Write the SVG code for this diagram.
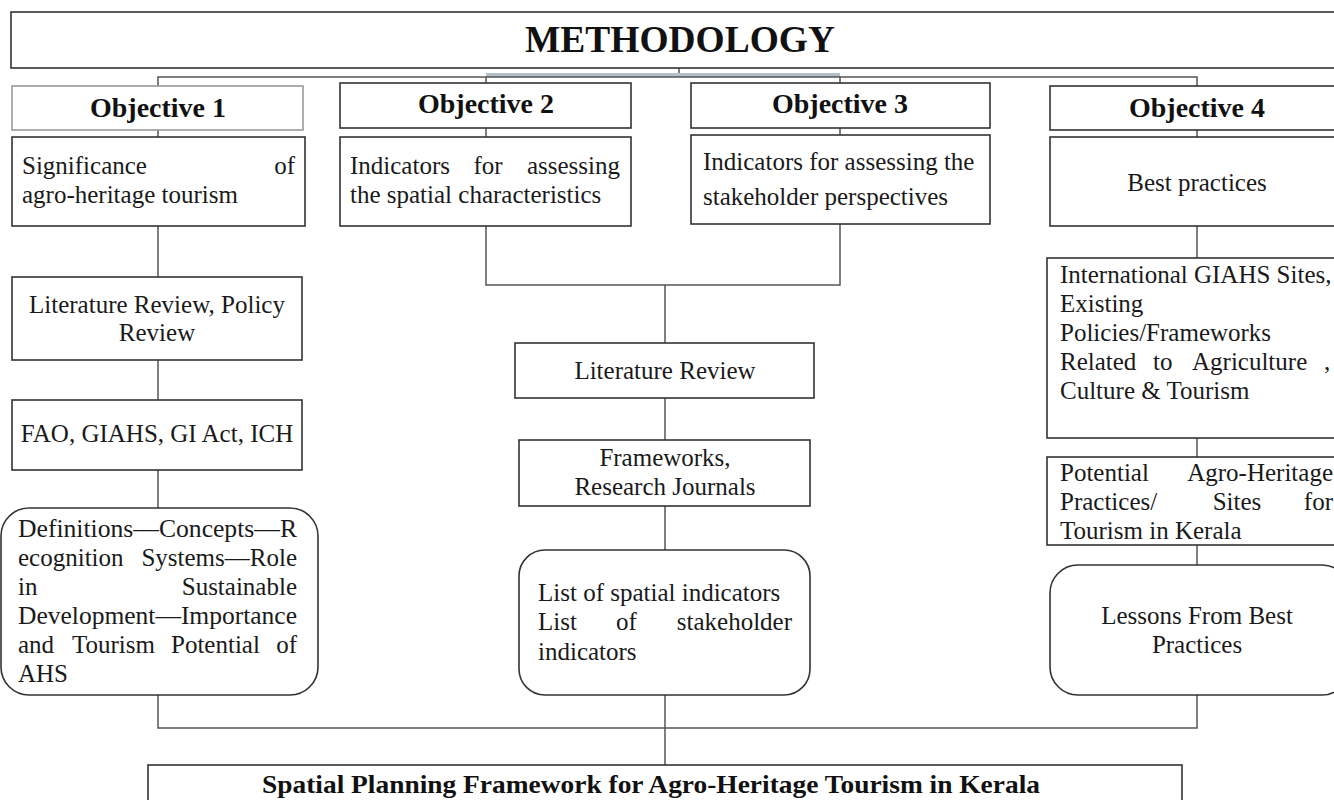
<svg xmlns="http://www.w3.org/2000/svg" width="1334" height="800" viewBox="0 0 1334 800">
  <style>
    .box { fill: #ffffff; stroke: #333333; stroke-width: 1.6; }
    .light { fill: #ffffff; stroke: #9a9a9a; stroke-width: 1.6; }
    .wire { fill: none; stroke: #555555; stroke-width: 1.5; }
    .t { font-family: "Liberation Serif", "Times New Roman", serif; font-size: 25px; fill: #1a1a1a; }
    .c { text-anchor: middle; }
    .e { text-anchor: end; }
    .b { font-family: "Liberation Serif", "Times New Roman", serif; font-weight: bold; fill: #111111; text-anchor: middle; }
  </style>
  <rect width="1334" height="800" fill="#ffffff"/>

  <!-- connectors -->
  <g id="connectors">
    <path class="wire" d="M679 68 V76"/>
    <path d="M486 75 H840" stroke="#b3bfc9" stroke-width="4" fill="none"/>
    <path class="wire" d="M158 86 V77 H1197 V86"/>
    <path class="wire" d="M486 77 V83 M840 77 V83"/>
    <path class="wire" d="M158 130 V137 M486 128 V137 M840 128 V135 M1197 130 V137"/>
    <!-- objective 1 column -->
    <path class="wire" d="M158 226 V277 M158 360 V400 M158 470 V508"/>
    <!-- objectives 2 and 3 merge -->
    <path class="wire" d="M486 226 V285 H840 V224 M665 285 V343 M665 398 V440 M665 506 V550"/>
    <!-- objective 4 column -->
    <path class="wire" d="M1197 226 V258 M1197 438 V457 M1197 545 V565"/>
    <!-- final merge -->
    <path class="wire" d="M158 695 V728 H1197 V695 M665 695 V765"/>
  </g>

  <g id="methodology">
    <rect class="box" x="11" y="12" width="1340" height="56"/>
    <text class="b" x="680" y="52" font-size="37" textLength="310" lengthAdjust="spacingAndGlyphs">METHODOLOGY</text>
  </g>

  <g id="objective1">
    <rect class="light" x="12" y="86" width="291" height="44"/>
    <text class="b" x="158" y="117" font-size="27" textLength="136" lengthAdjust="spacingAndGlyphs">Objective 1</text>
  </g>
  <g id="objective2">
    <rect class="box" x="340" y="83" width="291" height="45"/>
    <text class="b" x="486" y="113" font-size="27" textLength="136" lengthAdjust="spacingAndGlyphs">Objective 2</text>
  </g>
  <g id="objective3">
    <rect class="box" x="691" y="83" width="299" height="45"/>
    <text class="b" x="840" y="113" font-size="27" textLength="136" lengthAdjust="spacingAndGlyphs">Objective 3</text>
  </g>
  <g id="objective4">
    <rect class="box" x="1050" y="86" width="300" height="44"/>
    <text class="b" x="1197" y="117" font-size="27" textLength="136" lengthAdjust="spacingAndGlyphs">Objective 4</text>
  </g>

  <g id="significance">
    <rect class="box" x="12" y="137" width="293" height="89"/>
    <text class="t" x="22" y="174">Significance</text>
    <text class="t e" x="295" y="174">of</text>
    <text class="t" x="22" y="203">agro-heritage tourism</text>
  </g>
  <g id="spatial-indicators">
    <rect class="box" x="340" y="137" width="291" height="89"/>
    <text class="t" x="350" y="174">Indicators</text>
    <text class="t c" x="488" y="174">for</text>
    <text class="t e" x="620" y="174">assessing</text>
    <text class="t" x="350" y="203">the spatial characteristics</text>
  </g>
  <g id="stakeholder-indicators">
    <rect class="box" x="691" y="135" width="299" height="89"/>
    <text class="t" x="703" y="170">Indicators for assessing the</text>
    <text class="t" x="703" y="205">stakeholder perspectives</text>
  </g>
  <g id="best-practices">
    <rect class="box" x="1050" y="137" width="300" height="89"/>
    <text class="t c" x="1197" y="191">Best practices</text>
  </g>

  <g id="lit-policy-review">
    <rect class="box" x="12" y="277" width="290" height="83"/>
    <text class="t c" x="157" y="313">Literature Review, Policy</text>
    <text class="t c" x="157" y="341">Review</text>
  </g>
  <g id="fao-giahs">
    <rect class="box" x="12" y="400" width="290" height="70"/>
    <text class="t c" x="157" y="442">FAO, GIAHS, GI Act, ICH</text>
  </g>
  <g id="definitions">
    <rect class="box" x="1" y="508" width="317" height="187" rx="28"/>
    <text class="t" x="18" y="537" textLength="279" lengthAdjust="spacingAndGlyphs">Definitions—Concepts—R</text>
    <text class="t" x="18" y="566">ecognition</text>
    <text class="t e" x="297" y="566">Systems—Role</text>
    <text class="t" x="18" y="595">in</text>
    <text class="t e" x="297" y="595">Sustainable</text>
    <text class="t" x="18" y="624" textLength="279" lengthAdjust="spacingAndGlyphs">Development—Importance</text>
    <text class="t" x="18" y="653">and</text>
    <text class="t" x="72" y="653">Tourism</text>
    <text class="t" x="171" y="653">Potential</text>
    <text class="t e" x="297" y="653">of</text>
    <text class="t" x="18" y="682">AHS</text>
  </g>

  <g id="literature-review">
    <rect class="box" x="515" y="343" width="299" height="55"/>
    <text class="t c" x="665" y="379">Literature Review</text>
  </g>
  <g id="frameworks">
    <rect class="box" x="519" y="440" width="291" height="66"/>
    <text class="t c" x="665" y="466">Frameworks,</text>
    <text class="t c" x="665" y="495">Research Journals</text>
  </g>
  <g id="indicator-lists">
    <rect class="box" x="519" y="550" width="291" height="145" rx="26"/>
    <text class="t" x="538" y="601">List of spatial indicators</text>
    <text class="t" x="538" y="630">List</text>
    <text class="t" x="616" y="630">of</text>
    <text class="t e" x="792" y="630">stakeholder</text>
    <text class="t" x="538" y="660">indicators</text>
  </g>

  <g id="giahs-sites">
    <rect class="box" x="1047" y="258" width="300" height="180"/>
    <text class="t" x="1060" y="283">International GIAHS Sites,</text>
    <text class="t" x="1060" y="312">Existing</text>
    <text class="t" x="1060" y="341">Policies/Frameworks</text>
    <text class="t" x="1060" y="370">Related</text>
    <text class="t" x="1153" y="370">to</text>
    <text class="t" x="1192" y="370">Agriculture</text>
    <text class="t" x="1324" y="370">,</text>
    <text class="t" x="1060" y="399">Culture &amp; Tourism</text>
  </g>
  <g id="kerala-sites">
    <rect class="box" x="1047" y="457" width="300" height="88"/>
    <text class="t" x="1060" y="481">Potential</text>
    <text class="t e" x="1333" y="481">Agro-Heritage</text>
    <text class="t" x="1060" y="510">Practices/</text>
    <text class="t c" x="1237" y="510">Sites</text>
    <text class="t e" x="1333" y="510">for</text>
    <text class="t" x="1060" y="539">Tourism in Kerala</text>
  </g>
  <g id="lessons">
    <rect class="box" x="1050" y="565" width="300" height="130" rx="28"/>
    <text class="t c" x="1197" y="624">Lessons From Best</text>
    <text class="t c" x="1197" y="653">Practices</text>
  </g>

  <g id="framework">
    <rect class="box" x="148" y="765" width="1034" height="50"/>
    <text class="b" x="651" y="793" font-size="25" textLength="778" lengthAdjust="spacingAndGlyphs">Spatial Planning Framework for Agro-Heritage Tourism in Kerala</text>
  </g>
</svg>
